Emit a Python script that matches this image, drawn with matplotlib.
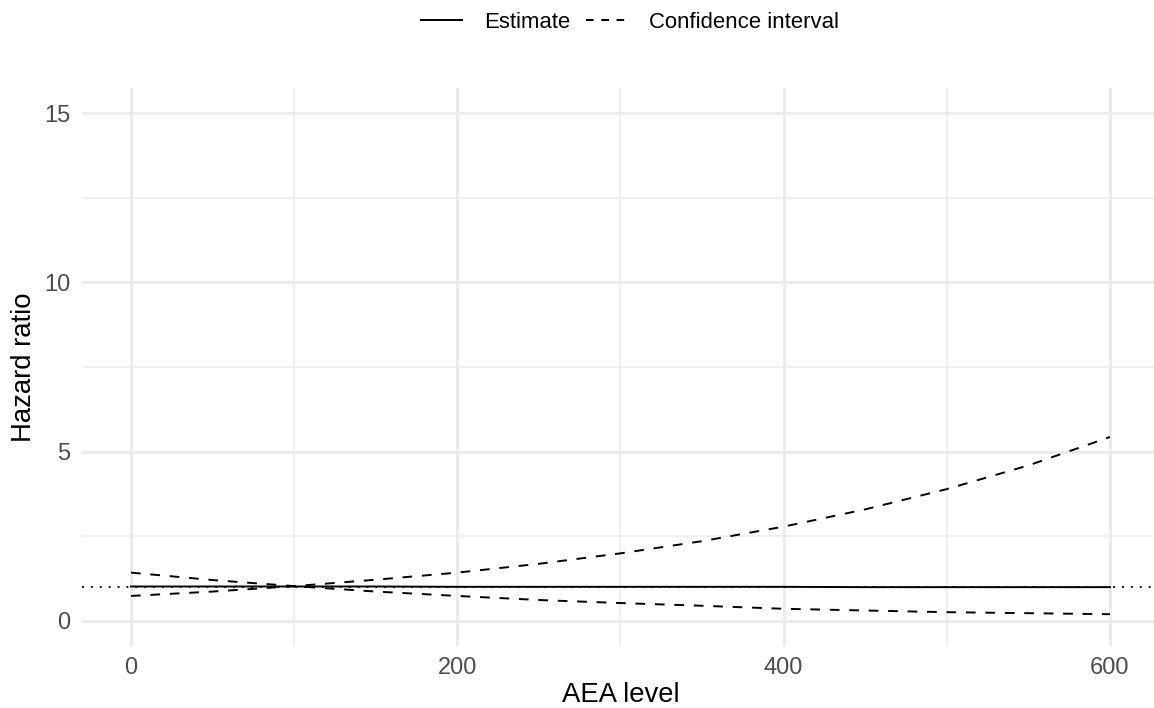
import matplotlib
matplotlib.use("Agg")
import matplotlib.pyplot as plt
from matplotlib.lines import Line2D

# Data
aea_level = [0, 50, 100, 150, 200, 250, 300, 350, 400, 450, 500, 550, 600]
estimate = [1.01, 1.01, 1.01, 1.01, 1.00, 1.00, 1.00, 1.00, 1.00, 0.99, 0.99, 0.99, 0.99]
ci_upper = [0.73, 0.86, 1.02, 1.21, 1.42, 1.68, 1.99, 2.35, 2.78, 3.29, 3.89, 4.59, 5.43]
ci_lower = [1.42, 1.20, 1.02, 0.86, 0.73, 0.61, 0.52, 0.44, 0.35, 0.30, 0.25, 0.22, 0.19]

x_ticks = [0, 200, 400, 600]
y_ticks = [0, 5, 10, 15]

plt.rcParams['font.family'] = ['Liberation Sans', 'DejaVu Sans']
plt.rcParams['lines.scale_dashes'] = False

W, H = 1154, 708
fig = plt.figure(figsize=(W / 100, H / 100), dpi=100)

# panel in pixels: left 82, top 88, bottom 646; x 0 -> 131, 600 -> 1110
px_per_unit = (1110 - 131) / 600
left = 82
right = 131 + 630 * px_per_unit
ax = fig.add_axes([left / W, 1 - 646 / H, (right - left) / W, (646 - 88) / H])

ax.set_xlim(-30, 630)
ax.set_ylim(-0.75, 15.75)

for s in ax.spines.values():
    s.set_visible(False)

ax.set_xticks(x_ticks)
ax.set_yticks(y_ticks)
ax.set_xticks([100, 300, 500], minor=True)
ax.set_yticks([2.5, 7.5, 12.5], minor=True)
ax.grid(which='major', color='#EBEBEB', linewidth=2.2)
ax.grid(which='minor', color='#EBEBEB', linewidth=1.1)
ax.set_axisbelow(True)
ax.tick_params(which='both', length=0)
ax.tick_params(axis='both', labelsize=17, colors='#4D4D4D', pad=8)
ax.tick_params(axis='y', pad=8.5)

ax.axhline(1, color='black', linewidth=1.3, linestyle=(0, (1.4, 5)))

ax.plot(aea_level, estimate, color='black', linewidth=1.4)
ax.plot(aea_level, ci_upper, color='black', linewidth=1.4, linestyle=(0, (7, 7)))
ax.plot(aea_level, ci_lower, color='black', linewidth=1.4, linestyle=(0, (7, 7)))

ax.set_xlabel('AEA level', fontsize=19.8, labelpad=2)
ax.set_ylabel('Hazard ratio', fontsize=19.8, labelpad=5)

handles = [
    Line2D([], [], color='black', linewidth=1.4),
    Line2D([], [], color='black', linewidth=1.4, linestyle=(0, (5.5, 5.5))),
]
fig.legend(handles, ['Estimate', 'Confidence interval'], loc='center',
           bbox_to_anchor=(630 / W, 1 - 22 / H), ncol=2, frameon=False,
           fontsize=15.9, handlelength=1.85, handletextpad=1.0, columnspacing=0.7)

fig.savefig('out.png', dpi=100, facecolor='white')
